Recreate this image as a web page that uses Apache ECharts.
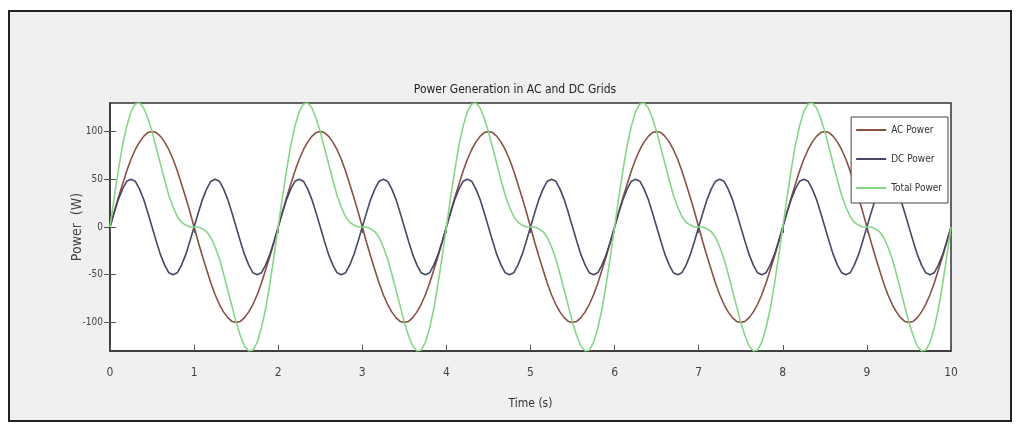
<!DOCTYPE html>
<html>
<head>
<meta charset="utf-8">
<script src="https://cdn.jsdelivr.net/npm/echarts@6/dist/echarts.min.js"></script>
<style>
  html, body { margin: 0; padding: 0; background: #fff; }
  #chart { width: 1020px; height: 425px; }
</style>
</head>
<body>
<div id="chart"></div>
<script>
// time samples, 0.05 s apart
var time = [];
for (var i = 0; i <= 200; i++) time.push(+(i * 0.05).toFixed(2));

// values (W)
var acPower = [
  0, 16, 31, 45, 59, 71, 81, 89, 95, 99, 100, 99, 95, 89, 81, 71, 59, 45, 31, 16, 0, -16, -31, -45, -59, -71, -81, -89, -95, -99, -100, -99, -95, -89, -81, -71, -59, -45, -31, -16,
  0, 16, 31, 45, 59, 71, 81, 89, 95, 99, 100, 99, 95, 89, 81, 71, 59, 45, 31, 16, 0, -16, -31, -45, -59, -71, -81, -89, -95, -99, -100, -99, -95, -89, -81, -71, -59, -45, -31, -16,
  0, 16, 31, 45, 59, 71, 81, 89, 95, 99, 100, 99, 95, 89, 81, 71, 59, 45, 31, 16, 0, -16, -31, -45, -59, -71, -81, -89, -95, -99, -100, -99, -95, -89, -81, -71, -59, -45, -31, -16,
  0, 16, 31, 45, 59, 71, 81, 89, 95, 99, 100, 99, 95, 89, 81, 71, 59, 45, 31, 16, 0, -16, -31, -45, -59, -71, -81, -89, -95, -99, -100, -99, -95, -89, -81, -71, -59, -45, -31, -16,
  0, 16, 31, 45, 59, 71, 81, 89, 95, 99, 100, 99, 95, 89, 81, 71, 59, 45, 31, 16, 0, -16, -31, -45, -59, -71, -81, -89, -95, -99, -100, -99, -95, -89, -81, -71, -59, -45, -31, -16,
  0
];
var dcPower = [
  0, 15, 29, 40, 48, 50, 48, 40, 29, 15, 0, -15, -29, -40, -48, -50, -48, -40, -29, -15, 0, 15, 29, 40, 48, 50, 48, 40, 29, 15, 0, -15, -29, -40, -48, -50, -48, -40, -29, -15,
  0, 15, 29, 40, 48, 50, 48, 40, 29, 15, 0, -15, -29, -40, -48, -50, -48, -40, -29, -15, 0, 15, 29, 40, 48, 50, 48, 40, 29, 15, 0, -15, -29, -40, -48, -50, -48, -40, -29, -15,
  0, 15, 29, 40, 48, 50, 48, 40, 29, 15, 0, -15, -29, -40, -48, -50, -48, -40, -29, -15, 0, 15, 29, 40, 48, 50, 48, 40, 29, 15, 0, -15, -29, -40, -48, -50, -48, -40, -29, -15,
  0, 15, 29, 40, 48, 50, 48, 40, 29, 15, 0, -15, -29, -40, -48, -50, -48, -40, -29, -15, 0, 15, 29, 40, 48, 50, 48, 40, 29, 15, 0, -15, -29, -40, -48, -50, -48, -40, -29, -15,
  0, 15, 29, 40, 48, 50, 48, 40, 29, 15, 0, -15, -29, -40, -48, -50, -48, -40, -29, -15, 0, 15, 29, 40, 48, 50, 48, 40, 29, 15, 0, -15, -29, -40, -48, -50, -48, -40, -29, -15,
  0
];
var totalPower = [
  0, 31, 60, 86, 106, 121, 129, 130, 125, 114, 100, 83, 66, 49, 33, 21, 11, 5, 2, 0, 0, 0, -2, -5, -11, -21, -33, -49, -66, -83, -100, -114, -125, -130, -129, -121, -106, -86, -60, -31,
  0, 31, 60, 86, 106, 121, 129, 130, 125, 114, 100, 83, 66, 49, 33, 21, 11, 5, 2, 0, 0, 0, -2, -5, -11, -21, -33, -49, -66, -83, -100, -114, -125, -130, -129, -121, -106, -86, -60, -31,
  0, 31, 60, 86, 106, 121, 129, 130, 125, 114, 100, 83, 66, 49, 33, 21, 11, 5, 2, 0, 0, 0, -2, -5, -11, -21, -33, -49, -66, -83, -100, -114, -125, -130, -129, -121, -106, -86, -60, -31,
  0, 31, 60, 86, 106, 121, 129, 130, 125, 114, 100, 83, 66, 49, 33, 21, 11, 5, 2, 0, 0, 0, -2, -5, -11, -21, -33, -49, -66, -83, -100, -114, -125, -130, -129, -121, -106, -86, -60, -31,
  0, 31, 60, 86, 106, 121, 129, 130, 125, 114, 100, 83, 66, 49, 33, 21, 11, 5, 2, 0, 0, 0, -2, -5, -11, -21, -33, -49, -66, -83, -100, -114, -125, -130, -129, -121, -106, -86, -60, -31,
  0
];
var yTicks = [-100, -50, 0, 50, 100];

function pairs(vals) {
  return vals.map(function (v, k) { return [time[k], v]; });
}

var font = '"DejaVu Sans Condensed", "Liberation Sans Narrow", "Liberation Sans", sans-serif';
var chart = echarts.init(document.getElementById('chart'));

var tickStyle = { inside: true, length: 6, lineStyle: { color: '#555' } };

chart.setOption({
  backgroundColor: '#fff',
  animation: false,
  graphic: [{
    type: 'rect', z: -10, silent: true,
    shape: { x: 9, y: 11, width: 1002, height: 410 },
    style: { fill: '#f0f0f0', stroke: '#222', lineWidth: 2 }
  }, {
    // plot area white background + box
    type: 'rect', z: -5, silent: true,
    shape: { x: 110, y: 103, width: 841, height: 248 },
    style: { fill: '#fff', stroke: '#333', lineWidth: 1.5 }
  }],
  title: {
    text: 'Power Generation in AC and DC Grids',
    left: 510, top: 79, textAlign: 'center',
    textStyle: { fontFamily: font, fontSize: 12, fontWeight: 'normal', color: '#222' }
  },
  grid: { left: 110, right: 69, top: 103, bottom: 74, containLabel: false },
  legend: {
    orient: 'vertical',
    right: 72, top: 117,
    backgroundColor: '#fff',
    borderColor: '#444', borderWidth: 1,
    padding: [8, 6, 10, 5],
    itemGap: 19, itemWidth: 30, itemHeight: 2,
    icon: 'rect',
    textStyle: { fontFamily: font, fontSize: 10, color: '#333' },
    data: ['AC Power', 'DC Power', 'Total Power']
  },
  xAxis: [{
    type: 'value', min: 0, max: 10, interval: 1,
    name: 'Time (s)', nameLocation: 'middle', nameGap: 47, nameMoveOverlap: false,
    nameTextStyle: { fontFamily: font, fontSize: 12, color: '#333' },
    axisLine: { show: true, onZero: false, lineStyle: { color: '#333', width: 1.5 } },
    axisTick: tickStyle,
    axisLabel: { fontFamily: font, fontSize: 12, color: '#444', margin: 16 },
    splitLine: { show: false }
  }, {
    type: 'value', min: 0, max: 10, interval: 1, position: 'top',
    axisLine: { show: false },
    axisTick: tickStyle,
    axisLabel: { show: false },
    splitLine: { show: false }
  }],
  yAxis: [{
    type: 'value', min: -130, max: 130,
    name: 'Power  (W)', nameLocation: 'middle', nameGap: 26, nameRotate: 90, nameMoveOverlap: false,
    nameTextStyle: { fontFamily: font, fontSize: 14, color: '#444' },
    axisLine: { show: true, onZero: false, lineStyle: { color: '#333', width: 1.5 } },
    axisTick: Object.assign({ customValues: yTicks }, tickStyle),
    axisLabel: { fontFamily: font, fontSize: 10, color: '#444', margin: 7, customValues: yTicks },
    splitLine: { show: false }
  }, {
    type: 'value', min: -130, max: 130, position: 'right',
    axisLine: { show: false },
    axisTick: Object.assign({ customValues: yTicks }, tickStyle),
    axisLabel: { show: false, customValues: yTicks },
    splitLine: { show: false }
  }],
  series: [{
    name: 'AC Power', type: 'line', symbol: 'none',
    data: pairs(acPower), color: '#8a4f45',
    lineStyle: { width: 1.6, color: '#8a4f45' }
  }, {
    name: 'DC Power', type: 'line', symbol: 'none',
    data: pairs(dcPower), color: '#474766',
    lineStyle: { width: 1.6, color: '#474766' }
  }, {
    name: 'Total Power', type: 'line', symbol: 'none',
    data: pairs(totalPower), color: '#86d686',
    lineStyle: { width: 1.6, color: '#86d686' }
  }]
});
</script>
</body>
</html>
